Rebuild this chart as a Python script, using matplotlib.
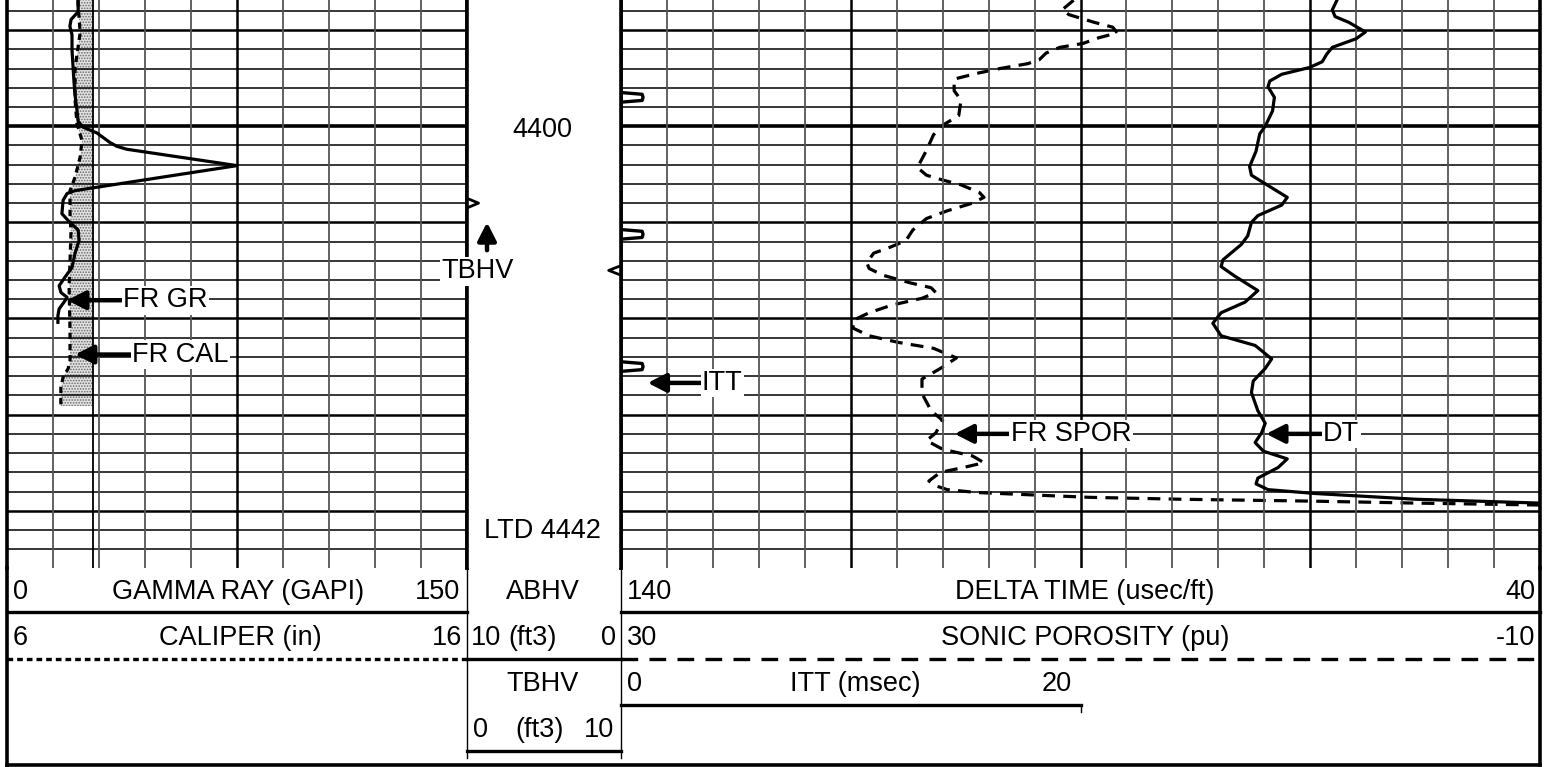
import numpy as np
import matplotlib
matplotlib.use("Agg")
import matplotlib.pyplot as plt
from matplotlib.transforms import blended_transform_factory

plt.rcParams['font.family'] = ['Liberation Sans', 'DejaVu Sans']
plt.rcParams['hatch.linewidth'] = 0.8

# ---- curve readings (depth in ft) ----
gr_depth = [4386.9, 4388.1, 4388.9, 4389.6, 4390.5, 4392.1, 4393.6, 4395.2, 4396.8, 4398.3,
            4399.5, 4400.1, 4400.7, 4401.7, 4402.1, 4402.4, 4404.1, 4406.7, 4407.0, 4407.7,
            4409.1, 4409.8, 4410.8, 4411.9, 4413.2, 4414.7, 4415.7, 4416.6, 4417.3, 4417.8,
            4418.3, 4419.0, 4419.7, 4420.4]
gr_api = [23.2, 23.2, 20.9, 20.5, 21.2, 21.2, 21.5, 21.8, 22.2, 22.8,
          23.2, 24.8, 29.3, 33.6, 35.9, 39.1, 75.0, 22.2, 19.6, 18.3,
          17.9, 19.9, 23.2, 23.5, 22.2, 21.2, 18.9, 17.0, 17.6, 19.6,
          18.6, 17.0, 16.6, 16.6]

cal_depth = [4386.9, 4390.3, 4393.9, 4397.3, 4399.7, 4401.5, 4403.2, 4405.3, 4406.7, 4409.1,
             4411.1, 4414.0, 4416.8, 4421.3, 4424.4, 4425.2, 4426.1, 4427.2, 4429.1]
cal_in = [7.54, 7.59, 7.48, 7.48, 7.52, 7.63, 7.59, 7.48, 7.37, 7.37,
          7.39, 7.37, 7.35, 7.37, 7.37, 7.33, 7.22, 7.17, 7.17]
bit_size = 7.875

dt_depth = [4386.9, 4387.9, 4388.6, 4389.2, 4390.2, 4390.9, 4391.8, 4392.5, 4393.3, 4393.9,
            4394.6, 4395.3, 4395.9, 4397.0, 4398.4, 4400.0, 4400.8, 4402.6, 4404.2, 4405.1,
            4406.4, 4407.4, 4408.2, 4409.3, 4410.0, 4411.4, 4412.3, 4413.9, 4414.6, 4415.6,
            4417.1, 4418.3, 4419.4, 4420.5, 4421.8, 4422.8, 4424.2, 4425.2, 4426.5, 4427.7,
            4429.6, 4430.9, 4431.9, 4432.9, 4433.8, 4434.6, 4435.5, 4436.6, 4437.2, 4437.8,
            4438.2, 4438.8, 4439.2]
dt_us = [62.1, 62.6, 62.3, 60.8, 59.0, 60.0, 62.6, 63.2, 63.7, 65.1,
         68.1, 69.4, 69.6, 68.9, 69.1, 69.9, 70.5, 70.9, 71.6, 71.4,
         69.2, 67.5, 68.1, 70.7, 71.4, 71.8, 72.5, 74.5, 74.7, 73.2,
         70.7, 72.1, 74.7, 75.6, 74.7, 71.0, 69.2, 69.9, 71.2, 71.4,
         70.7, 69.9, 70.3, 71.0, 70.1, 67.5, 68.5, 70.7, 70.9, 69.6,
         64.5, 53.5, 40.0]

spor_depth = [4386.9, 4387.9, 4388.4, 4389.2, 4389.7, 4390.3, 4390.8, 4391.4, 4391.8, 4392.4,
              4393.1, 4393.5, 4394.0, 4394.5, 4395.1, 4396.3, 4397.3, 4398.9, 4399.9, 4400.9,
              4402.5, 4404.3, 4405.1, 4405.6, 4406.1, 4406.9, 4407.4, 4408.0, 4408.8, 4409.6,
              4410.8, 4411.9, 4412.7, 4413.2, 4414.2, 4414.8, 4415.5, 4416.3, 4416.8, 4417.3,
              4417.9, 4418.6, 4419.4, 4420.2, 4421.0, 4421.8, 4422.5, 4423.1, 4424.1, 4425.2,
              4426.3, 4427.8, 4429.6, 4430.6, 4431.9, 4432.7, 4433.6, 4434.3, 4435.0, 4435.5,
              4436.0, 4436.9, 4437.4, 4437.8, 4438.1, 4438.4, 4438.6, 4438.8, 4439.0, 4439.2,
              4439.4]
spor_pu = [10.3, 10.8, 10.5, 9.4, 8.6, 8.4, 9.2, 9.9, 10.9, 11.5,
           11.8, 12.3, 13.5, 14.5, 15.5, 15.5, 15.2, 15.3, 16.0, 16.4,
           16.7, 17.1, 16.7, 16.0, 15.2, 14.4, 14.2, 14.7, 15.8, 16.7,
           17.3, 17.6, 18.4, 19.0, 19.3, 19.2, 18.6, 17.4, 16.5, 16.3,
           16.9, 18.2, 19.2, 19.9, 19.9, 19.2, 17.9, 16.4, 15.4, 16.1,
           16.9, 16.9, 16.5, 16.0, 16.3, 16.7, 16.0, 14.7, 14.2, 15.1,
           16.1, 16.6, 16.3, 15.8, 14.5, 11.6, 9.6, 5.6, -0.2, -4.6,
           -10.0]

itt_pip_depth = [4397.0, 4411.25, 4425.0]
tbhv_tick_depth = [4408.0]
abhv_tick_depth = [4415.0]

top_depth, bottom_depth = 4386.875, 4445.95
W, H = 1554, 767
FS = 19.5


def box(x0, x1, y0=0, y1=568):
    return [x0 / W, 1 - y1 / H, (x1 - x0) / W, (y1 - y0) / H]


def depth_grid(ax):
    for d in np.arange(4388, 4446, 2):
        if d % 100 == 0:
            lw = 2.6
        elif d % 10 == 0:
            lw = 1.8
        else:
            lw = 1.1
        ax.axhline(d, color='black', lw=lw, zorder=1)


def style_track(ax):
    ax.set_ylim(bottom_depth, top_depth)
    ax.set_xticks([])
    ax.set_yticks([])
    for s in ('top', 'bottom'):
        ax.spines[s].set_visible(False)
    for s in ('left', 'right'):
        ax.spines[s].set_linewidth(2.6)


def hide_twin(ax):
    ax.set_xticks([])
    ax.set_yticks([])
    for s in ax.spines.values():
        s.set_visible(False)


lab_box = dict(facecolor='white', edgecolor='none', pad=1.0)
arrow = dict(arrowstyle='-|>,head_length=0.55,head_width=0.28', lw=3.2, color='black',
             mutation_scale=20, shrinkA=0, shrinkB=0)
curve = dict(color='black', lw=2.3, solid_joinstyle='round', dash_joinstyle='round')

fig = plt.figure(figsize=(W / 100, H / 100), dpi=100)

# ---- track 1: gamma ray / caliper ----
ax_gr = fig.add_axes(box(7, 467))
ax_cal = ax_gr.twiny()
ax_cal.set_zorder(1)
ax_gr.set_zorder(2)
ax_gr.patch.set_visible(False)
style_track(ax_gr)
hide_twin(ax_cal)
ax_gr.set_xlim(0, 150)
ax_cal.set_xlim(6, 16)
ax_cal.set_ylim(bottom_depth, top_depth)
depth_grid(ax_gr)
for v in np.arange(15, 150, 15):
    if v == 75:
        ax_gr.axvline(v, color='black', lw=1.8, zorder=1)
    else:
        ax_gr.axvline(v, color='#555555', lw=1.3, zorder=1)

ax_cal.fill_betweenx(cal_depth, cal_in, bit_size, facecolor=(0.75, 0.75, 0.75, 0.45),
                     edgecolor='#6a6a6a', hatch='......', linewidth=0, zorder=2)
ax_cal.axvline(bit_size, color='black', lw=1.3, zorder=2)
ax_cal.plot(cal_in, cal_depth, dashes=(2.0, 1.5), zorder=4, **curve)
ax_gr.plot(gr_api, gr_depth, zorder=5, **curve)

ax_gr.annotate('FR GR', xy=(19.6, 4418.1), xytext=(37.8, 4418.1), ha='left', va='center',
               fontsize=FS, bbox=lab_box, arrowprops=arrow, zorder=6)
ax_gr.annotate('FR CAL', xy=(22.2, 4423.75), xytext=(40.8, 4423.75), ha='left', va='center',
               fontsize=FS, bbox=lab_box, arrowprops=arrow, zorder=6)

# ---- depth track ----
ax_dep = fig.add_axes(box(467, 621))
ax_dep.set_zorder(3)
style_track(ax_dep)
ax_dep.set_xlim(0, 1)
ax_dep.text(0.49, 4400.4, '4400', ha='center', va='center', fontsize=FS)
ax_dep.text(0.49, 4442.1, 'LTD 4442', ha='center', va='center', fontsize=FS)
for d in tbhv_tick_depth:
    ax_dep.plot([0, 0.075, 0], [d - 0.5, d, d + 0.5], color='black', lw=2.0, zorder=4)
for d in abhv_tick_depth:
    ax_dep.plot([1, 0.92, 1], [d - 0.5, d, d + 0.5], color='black', lw=2.0, zorder=4)
ax_dep.annotate('', xy=(0.13, 4410.0), xytext=(0.13, 4412.9), arrowprops=arrow)
ax_dep.text(0.07, 4415.1, 'TBHV', ha='center', va='center', fontsize=FS, bbox=lab_box,
            zorder=6)

# ---- track 2+3: sonic ----
ax_dt = fig.add_axes(box(621, 1540))
ax_sp = ax_dt.twiny()
ax_sp.set_zorder(1)
ax_dt.set_zorder(2)
ax_dt.patch.set_visible(False)
style_track(ax_dt)
hide_twin(ax_sp)
ax_dt.set_xlim(140, 40)
ax_sp.set_xlim(30, -10)
ax_sp.set_ylim(bottom_depth, top_depth)
depth_grid(ax_dt)
for v in np.arange(135, 40, -5):
    if v in (115, 90, 65):
        ax_dt.axvline(v, color='black', lw=1.8, zorder=1)
    else:
        ax_dt.axvline(v, color='#555555', lw=1.3, zorder=1)

ax_dt.plot(dt_us, dt_depth, zorder=5, **curve)
ax_sp.plot(spor_pu, spor_depth, dashes=(4.0, 2.6), zorder=4, **curve)

trans = blended_transform_factory(ax_dt.transAxes, ax_dt.transData)
for d in itt_pip_depth:
    ax_dt.plot([0, 0.023, 0.024, 0.023, 0], [d - 0.5, d - 0.32, d, d + 0.32, d + 0.5],
               color='black', lw=2.4, transform=trans, zorder=4, clip_on=False)

ax_dt.annotate('ITT', xy=(137.1, 4426.7), xytext=(131.2, 4426.7), ha='left', va='center',
               fontsize=FS, bbox=lab_box, arrowprops=arrow, zorder=6)
ax_dt.annotate('FR SPOR', xy=(103.7, 4432.0), xytext=(97.6, 4432.0), ha='left', va='center',
               fontsize=FS, bbox=lab_box, arrowprops=arrow, zorder=6)
ax_dt.annotate('DT', xy=(69.8, 4432.0), xytext=(63.6, 4432.0), ha='left', va='center',
               fontsize=FS, bbox=lab_box, arrowprops=arrow, zorder=6)

# ---- header (pixel layout) ----
hd = fig.add_axes([0, 0, 1, 1])
hd.set_zorder(5)
hd.set_xlim(0, W)
hd.set_ylim(H, 0)
hd.axis('off')

hd.plot([7, 7], [568, 765], color='black', lw=2.6)
hd.plot([1540, 1540], [568, 765], color='black', lw=2.6)
hd.plot([7, 1540], [765, 765], color='black', lw=2.6)
hd.plot([467, 467], [568, 758], color='black', lw=1.0)
hd.plot([621, 621], [568, 758], color='black', lw=1.0)

hd.plot([7, 467], [612, 612], color='black', lw=2.4)
hd.plot([7, 467], [659, 659], color='black', lw=2.4, dashes=(1.7, 1.2))
hd.plot([467, 621], [659, 659], color='black', lw=2.4)
hd.plot([467, 621], [751, 751], color='black', lw=2.4)
hd.plot([621, 1540], [612, 612], color='black', lw=2.4)
hd.plot([621, 1540], [659, 659], color='black', lw=2.4, dashes=(5.0, 3.4))
hd.plot([621, 1081], [705, 705], color='black', lw=2.4)
hd.plot([1081, 1081], [705, 712], color='black', lw=1.0)

r1, r2, r3, r4 = 592, 638, 684, 730
txt = dict(fontsize=FS, va='center')
hd.text(13, r1, '0', ha='left', **txt)
hd.text(238, r1, 'GAMMA RAY (GAPI)', ha='center', **txt)
hd.text(460, r1, '150', ha='right', **txt)
hd.text(13, r2, '6', ha='left', **txt)
hd.text(240, r2, 'CALIPER (in)', ha='center', **txt)
hd.text(462, r2, '16', ha='right', **txt)

hd.text(543, r1, 'ABHV', ha='center', **txt)
hd.text(471, r2, '10', ha='left', **txt)
hd.text(533, r2, '(ft3)', ha='center', **txt)
hd.text(616, r2, '0', ha='right', **txt)
hd.text(543, r3, 'TBHV', ha='center', **txt)
hd.text(473, r4, '0', ha='left', **txt)
hd.text(540, r4, '(ft3)', ha='center', **txt)
hd.text(614, r4, '10', ha='right', **txt)

hd.text(627, r1, '140', ha='left', **txt)
hd.text(1085, r1, 'DELTA TIME (usec/ft)', ha='center', **txt)
hd.text(1535, r1, '40', ha='right', **txt)
hd.text(627, r2, '30', ha='left', **txt)
hd.text(1085, r2, 'SONIC POROSITY (pu)', ha='center', **txt)
hd.text(1535, r2, '-10', ha='right', **txt)
hd.text(627, r3, '0', ha='left', **txt)
hd.text(855, r3, 'ITT (msec)', ha='center', **txt)
hd.text(1072, r3, '20', ha='right', **txt)

fig.savefig('out.png', dpi=100)
